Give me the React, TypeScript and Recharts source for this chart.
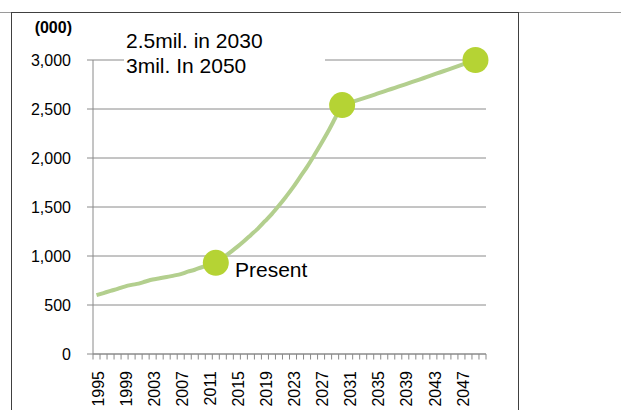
import React from 'react';
import { ComposedChart, Line, XAxis, YAxis, CartesianGrid } from 'recharts';

const years = [
  '1995', '1996', '1997', '1998', '1999', '2000', '2001', '2002', '2003', '2004',
  '2005', '2006', '2007', '2008', '2009', '2010', '2011', '2012', '2013', '2014',
  '2015', '2016', '2017', '2018', '2019', '2020', '2021', '2022', '2023', '2024',
  '2025', '2026', '2027', '2028', '2029', '2030', '2031', '2032', '2033', '2034',
  '2035', '2036', '2037', '2038', '2039', '2040', '2041', '2042', '2043', '2044',
  '2045', '2046', '2047', '2048', '2049', '2050',
];

const population = [
  600, 622, 644, 665, 688, 705, 718, 740, 760, 772,
  785, 800, 815, 840, 860, 885, 905, 930, 980, 1035,
  1090, 1150, 1215, 1280, 1355, 1430, 1515, 1605, 1700, 1805,
  1910, 2025, 2145, 2270, 2405, 2540, 2563, 2586, 2609, 2632,
  2656, 2680, 2704, 2728, 2752, 2776, 2800, 2825, 2850, 2875,
  2900, 2925, 2950, 2975, 3000, null,
];

const milestoneYears = ['2012', '2030', '2049'];
const milestoneValues = [930, 2540, 3000];

const yTicks = [0, 500, 1000, 1500, 2000, 2500, 3000];

const unitLabel = '(000)';
const noteLines = ['2.5mil. in 2030', '3mil. In 2050'];
const presentLabel = 'Present';

const W = 621;
const H = 410;
const MARGIN = { top: 60, right: 135, bottom: 0, left: 0 };
const Y_AXIS_W = 93;
const X_AXIS_H = 56;
const X_TICK_MARGIN = 17;
const STEP = (W - MARGIN.left - MARGIN.right - Y_AXIS_W) / years.length;
const FONT = '"Liberation Sans", Arial, sans-serif';
const AXIS_COLOR = '#8a8a8a';

const data = years.map((year, i) => {
  const m = milestoneYears.indexOf(year);
  return {
    year,
    value: population[i],
    milestone: m >= 0 ? milestoneValues[m] : null,
  };
});

function XTick(props: any) {
  const { x, y, payload } = props;
  const idx = payload && payload.index != null ? payload.index : props.index;
  const axisY = y - X_TICK_MARGIN;
  const left = x - STEP / 2;
  const right = x + STEP / 2;
  return (
    <g>
      <line x1={left} x2={left} y1={axisY} y2={axisY + 5.5} stroke={AXIS_COLOR} strokeWidth={1} />
      {idx === years.length - 1 && (
        <line x1={right} x2={right} y1={axisY} y2={axisY + 5.5} stroke={AXIS_COLOR} strokeWidth={1} />
      )}
      {idx % 4 === 0 && (
        <text
          x={x}
          y={y}
          dy="0.45em"
          transform={`rotate(-90, ${x}, ${y})`}
          textAnchor="end"
          fontSize={16}
          fontFamily={FONT}
          fill="#000"
        >
          {payload.value}
        </text>
      )}
    </g>
  );
}

export default function App() {
  return (
    <div
      style={{
        position: 'absolute',
        left: 0,
        top: 0,
        width: W,
        height: H,
        overflow: 'hidden',
        background: '#fff',
        fontFamily: FONT,
      }}
    >
      <div style={{ position: 'absolute', left: 0, top: 12, width: W, height: 1, background: '#9a9a9a' }} />
      <div
        style={{
          position: 'absolute',
          left: 11,
          top: 12,
          width: 506,
          height: 440,
          border: '1px solid #404040',
          background: '#fff',
        }}
      />
      <div style={{ position: 'absolute', left: 0, top: 0 }}>
        <ComposedChart width={W} height={H} data={data} margin={MARGIN}>
          <CartesianGrid horizontal vertical={false} stroke={AXIS_COLOR} strokeWidth={1} />
          <XAxis
            dataKey="year"
            scale="band"
            interval={0}
            height={X_AXIS_H}
            tickLine={false}
            tickSize={0}
            tickMargin={X_TICK_MARGIN}
            axisLine={{ stroke: AXIS_COLOR, strokeWidth: 1 }}
            tick={<XTick />}
          />
          <YAxis
            width={Y_AXIS_W}
            domain={[0, 3000]}
            ticks={yTicks}
            interval={0}
            tickSize={6}
            tickMargin={16}
            axisLine={{ stroke: AXIS_COLOR, strokeWidth: 1 }}
            tickLine={{ stroke: AXIS_COLOR, strokeWidth: 1 }}
            tick={{ fill: '#000', fontSize: 16, fontFamily: FONT }}
            tickFormatter={(v: number) => v.toLocaleString('en-US')}
          />
          <Line
            type="monotone"
            dataKey="value"
            stroke="#b3cf8e"
            strokeWidth={4}
            dot={false}
            activeDot={false}
            isAnimationActive={false}
          />
          <Line
            dataKey="milestone"
            stroke="none"
            dot={{ r: 13, fill: '#b5d334', stroke: 'none' }}
            activeDot={false}
            isAnimationActive={false}
          />
        </ComposedChart>
      </div>
      <svg
        width={W}
        height={H}
        style={{ position: 'absolute', left: 0, top: 0, pointerEvents: 'none' }}
      >
        <text x={72} y={33} textAnchor="end" fontSize={16} fontWeight="bold" fontFamily={FONT} fill="#000">
          {unitLabel}
        </text>
        <rect x={124} y={27} width={201} height={52} fill="#fff" />
        <text x={126} y={48} fontSize={21} fontFamily={FONT} fill="#000">
          {noteLines[0]}
        </text>
        <text x={126} y={72.5} fontSize={21} fontFamily={FONT} fill="#000">
          {noteLines[1]}
        </text>
        <text x={235} y={277} fontSize={21} fontFamily={FONT} fill="#000">
          {presentLabel}
        </text>
      </svg>
    </div>
  );
}
